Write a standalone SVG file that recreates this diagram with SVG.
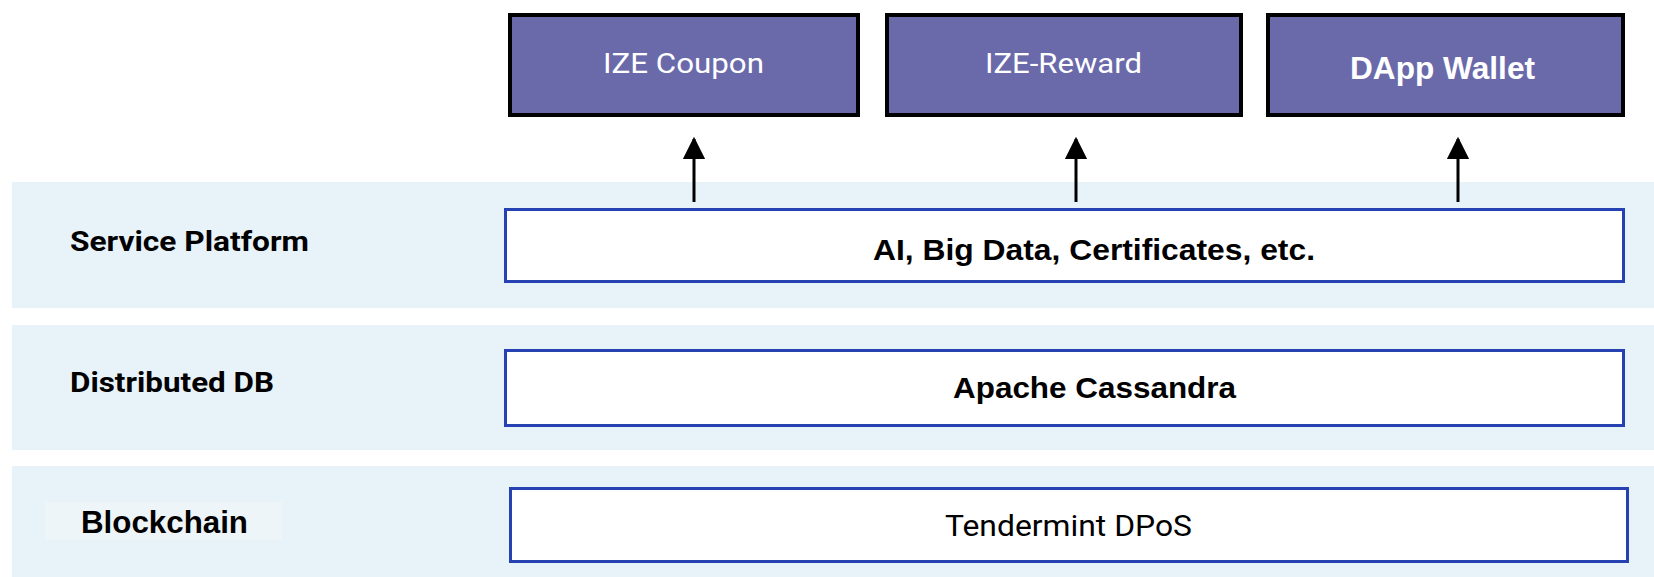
<svg xmlns="http://www.w3.org/2000/svg" width="1654" height="577" viewBox="0 0 1654 577">
<defs>
<style>
.band{fill:#e8f3f9;}
.app rect{fill:#6a6aab;stroke:#000;stroke-width:4;}
.app text{fill:#fff;text-anchor:middle;}
.layer rect{fill:#fff;stroke:#2541b2;stroke-width:3;}
.layer text{fill:#000;text-anchor:middle;}
.lbl{fill:#000;font-weight:bold;}
.roboto{font-family:Roboto,"Liberation Sans",sans-serif;}
.arial{font-family:"Liberation Sans",Arial,sans-serif;}
.conn line{stroke:#000;stroke-width:3;}
</style>
<marker id="ah" viewBox="0 0 10 10" refX="9" refY="5" markerWidth="7.5" markerHeight="7.5" markerUnits="strokeWidth" orient="auto">
<path d="M0,0 L10,5 L0,10 z" fill="#000"/>
</marker>
</defs>
<rect width="1654" height="577" fill="#fff"/>
<rect class="band" x="12" y="182" width="1642" height="126"/>
<rect class="band" x="12" y="325" width="1642" height="125"/>
<rect class="band" x="12" y="466" width="1642" height="111"/>
<rect x="45" y="502" width="237" height="38" fill="#edf5f9"/>
<g id="label-service"><text class="lbl roboto" x="70" y="251" font-size="28" textLength="239" lengthAdjust="spacingAndGlyphs">Service Platform</text></g>
<g id="label-db"><text class="lbl roboto" x="70" y="392" font-size="28" textLength="204" lengthAdjust="spacingAndGlyphs">Distributed DB</text></g>
<g id="label-blockchain"><text class="lbl arial" x="81" y="533" font-size="31" textLength="167" lengthAdjust="spacingAndGlyphs">Blockchain</text></g>
<g id="ize-coupon" class="app"><rect x="510" y="15" width="348" height="100"/><text class="roboto" x="683.5" y="73" font-size="28" textLength="161" lengthAdjust="spacingAndGlyphs">IZE Coupon</text></g>
<g id="ize-reward" class="app"><rect x="887" y="15" width="354" height="100"/><text class="roboto" x="1063.5" y="73" font-size="28" textLength="157" lengthAdjust="spacingAndGlyphs">IZE-Reward</text></g>
<g id="dapp-wallet" class="app"><rect x="1268" y="15" width="355" height="100"/><text class="arial" x="1442.5" y="79" font-size="30.5" font-weight="bold" textLength="185" lengthAdjust="spacingAndGlyphs">DApp Wallet</text></g>
<g id="service-platform" class="layer"><rect x="505.5" y="209.5" width="1118" height="72"/><text class="arial" x="1094" y="260" font-size="29.5" font-weight="bold" textLength="442" lengthAdjust="spacingAndGlyphs">AI, Big Data, Certificates, etc.</text></g>
<g id="distributed-db" class="layer"><rect x="505.5" y="350.5" width="1118" height="75"/><text class="arial" x="1094.5" y="398" font-size="30" font-weight="bold" textLength="283" lengthAdjust="spacingAndGlyphs">Apache Cassandra</text></g>
<g id="blockchain" class="layer"><rect x="510.5" y="488.5" width="1117" height="73"/><text class="roboto" x="1068.5" y="536" font-size="29.5" textLength="247" lengthAdjust="spacingAndGlyphs">Tendermint DPoS</text></g>
<g id="connectors" class="conn">
<line x1="694" y1="202" x2="694" y2="139" marker-end="url(#ah)"/>
<line x1="1076" y1="202" x2="1076" y2="139" marker-end="url(#ah)"/>
<line x1="1458" y1="202" x2="1458" y2="139" marker-end="url(#ah)"/>
</g>
</svg>
